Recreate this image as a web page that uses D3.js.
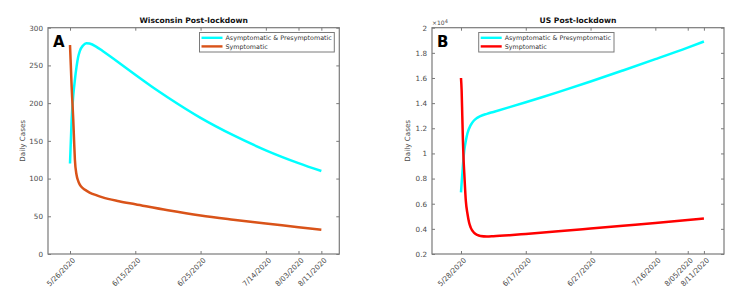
<!DOCTYPE html>
<html><head><meta charset="utf-8">
<script src="https://cdn.jsdelivr.net/npm/d3@7"></script>
<style>body{margin:0;background:#fff}svg{display:block}text{font-family:"DejaVu Sans",sans-serif}</style>
</head><body>
<svg id="c" width="753" height="297"></svg>
<script>
// ---- data ----
const wiDays = [0,0.5,1,1.5,2,2.5,3,4,5,6,8,10,15,20,25,30,40,50,60,70,77];
const wiAsym = [120,178,210,231,248,261,269,276.5,279.5,279,275,269,253.5,237.5,222,207.5,180.5,157.5,137.5,120.5,110];
const wiSymDays = [0,0.25,0.5,0.75,1,1.25,1.5,2,2.5,3,4,5,6,8,10,15,20,30,40,50,60,70,77];
const wiSym = [277,250,222,200,178,150,125,105,97,92,87,84,81.5,78,75,70,66,58,51,45.5,40.5,35.5,32];
const wiTicks = [0,20,40,60,70,77];
const wiTickLabels = ["5/26/2020","6/15/2020","6/25/2020","7/14/2020","8/03/2020","8/11/2020"];
const wiYTicks = [0,50,100,150,200,250,300];

const usAsymDays = [0,0.5,1,1.5,2,3,4,5,6,8,10,15,20,25,30,40,50,60,70,75];
const usAsym = [0.69,0.87,1.02,1.1,1.16,1.225,1.262,1.283,1.297,1.315,1.33,1.368,1.407,1.447,1.488,1.572,1.66,1.75,1.842,1.89];
const usSymDays = [0,0.2,0.4,0.6,0.8,1,1.5,2,2.5,3,4,5,6,8,10,15,20,30,40,50,60,70,75];
const usSym = [1.6,1.5,1.3,1.1,0.95,0.85,0.62,0.52,0.45,0.41,0.37,0.352,0.344,0.34,0.342,0.35,0.36,0.381,0.403,0.425,0.447,0.47,0.482];
const usTicks = [0,20,40,60,70,75];
const usTickLabels = ["5/28/2020","6/17/2020","6/27/2020","7/16/2020","8/05/2020","8/11/2020"];
const usYTicks = [0.2,0.4,0.6,0.8,1,1.2,1.4,1.6,1.8,2];
const usYTickLabels = ["0.2","0.4","0.6","0.8","1","1.2","1.4","1.6","1.8","2"];

const seriesNames = ["Asymptomatic & Presymptomatic","Symptomatic"];

// ---- drawing ----
const svg = d3.select("#c");
const axisCol = "#7a7a7a", textCol = "#4a4a4a";

function panel(o){
  const g = svg.append("g");
  const x = d3.scaleLinear().domain(o.xdom).range([o.left,o.right]);
  const y = d3.scaleLinear().domain(o.ydom).range([o.bottom,o.top]);
  g.append("rect").attr("x",o.left).attr("y",o.top).attr("width",o.right-o.left).attr("height",o.bottom-o.top)
    .attr("fill","none").attr("stroke",axisCol).attr("stroke-width",1.2);
  const ax = g.append("g").attr("transform",`translate(0,${o.bottom})`)
    .call(d3.axisBottom(x).tickValues(o.xticks).tickSize(-3).tickSizeOuter(0).tickFormat((d,i)=>o.xlabels[i]));
  ax.select(".domain").remove();
  ax.selectAll("line").attr("stroke",axisCol);
  ax.selectAll("text").attr("fill",textCol).attr("font-size",7.2).attr("text-anchor","end")
    .attr("transform","translate(3.5,5) rotate(-45)").attr("dy","0.35em").attr("y",0).attr("x",0);
  const axT = g.append("g").attr("transform",`translate(0,${o.top})`)
    .call(d3.axisTop(x).tickValues(o.xticks).tickSize(-3).tickSizeOuter(0).tickFormat(""));
  axT.select(".domain").remove(); axT.selectAll("line").attr("stroke",axisCol);
  const ay = g.append("g").attr("transform",`translate(${o.left},0)`)
    .call(d3.axisLeft(y).tickValues(o.yticks).tickSize(-3).tickSizeOuter(0).tickPadding(5).tickFormat((d,i)=>o.ylabels[i]));
  ay.select(".domain").remove(); ay.selectAll("line").attr("stroke",axisCol);
  ay.selectAll("text").attr("fill",textCol).attr("font-size",7.2);
  const ayR = g.append("g").attr("transform",`translate(${o.right},0)`)
    .call(d3.axisRight(y).tickValues(o.yticks).tickSize(-3).tickSizeOuter(0).tickFormat(""));
  ayR.select(".domain").remove(); ayR.selectAll("line").attr("stroke",axisCol);
  g.append("text").attr("transform",`translate(${o.ylabX},${(o.top+o.bottom)/2}) rotate(-90)`)
    .attr("text-anchor","middle").attr("font-size",7.2).attr("fill",textCol).text("Daily Cases");
  g.append("text").attr("x",(o.left+o.right)/2).attr("y",23).attr("text-anchor","middle")
    .attr("font-size",7.6).attr("font-weight","bold").attr("fill","#111").text(o.title);
  const line = d3.line().x(d=>x(d[0])).y(d=>y(d[1])).curve(d3.curveMonotoneX);
  o.series.forEach(s=>{
    g.append("path").attr("d",line(d3.zip(s.xs,s.ys))).attr("fill","none")
      .attr("stroke",s.color).attr("stroke-width",2.5).attr("stroke-linejoin","round");
  });
  g.append("text").attr("x",o.left+5).attr("y",47).attr("font-size",15).attr("font-weight","bold")
    .attr("fill","#000").text(o.letter);
  const lg = g.append("g");
  lg.append("rect").attr("x",o.legX).attr("y",32.5).attr("width",o.legW).attr("height",19.5)
    .attr("fill","#fff").attr("stroke",axisCol).attr("stroke-width",1);
  o.series.forEach((s,i)=>{
    const yy = 37.8 + i*8.6;
    lg.append("line").attr("x1",o.legX+2).attr("x2",o.legX+23).attr("y1",yy).attr("y2",yy)
      .attr("stroke",s.color).attr("stroke-width",2.4);
    lg.append("text").attr("x",o.legX+26).attr("y",yy).attr("dy","0.35em").attr("font-size",6.35)
      .attr("fill","#333").text(seriesNames[i]);
  });
  return {x,y,g};
}

panel({left:48,right:339.3,top:27.7,bottom:254,xdom:[-6.74,82.5],ydom:[0,300],
  xticks:wiTicks,xlabels:wiTickLabels,yticks:wiYTicks,ylabels:wiYTicks.map(String),
  ylabX:24.5,title:"Wisconsin Post-lockdown",letter:"A",legX:199.5,legW:134.8,
  series:[{xs:wiDays,ys:wiAsym,color:"#00FFFF"},{xs:wiSymDays,ys:wiSym,color:"#D95319"}]});

const pB = panel({left:432,right:724,top:27.7,bottom:254,xdom:[-8.95,81.2],ydom:[0.2,2],
  xticks:usTicks,xlabels:usTickLabels,yticks:usYTicks,ylabels:usYTickLabels,
  ylabX:410,title:"US Post-lockdown",letter:"B",legX:478.7,legW:135.3,
  series:[{xs:usAsymDays,ys:usAsym,color:"#00FFFF"},{xs:usSymDays,ys:usSym,color:"#FF0000"}]});
const ex = pB.g.append("text").attr("x",432).attr("y",25).attr("font-size",6).attr("fill",textCol);
ex.append("tspan").text("\u00d710");
ex.append("tspan").attr("dy",-2.5).attr("font-size",5).text("4");
</script>
</body></html>
